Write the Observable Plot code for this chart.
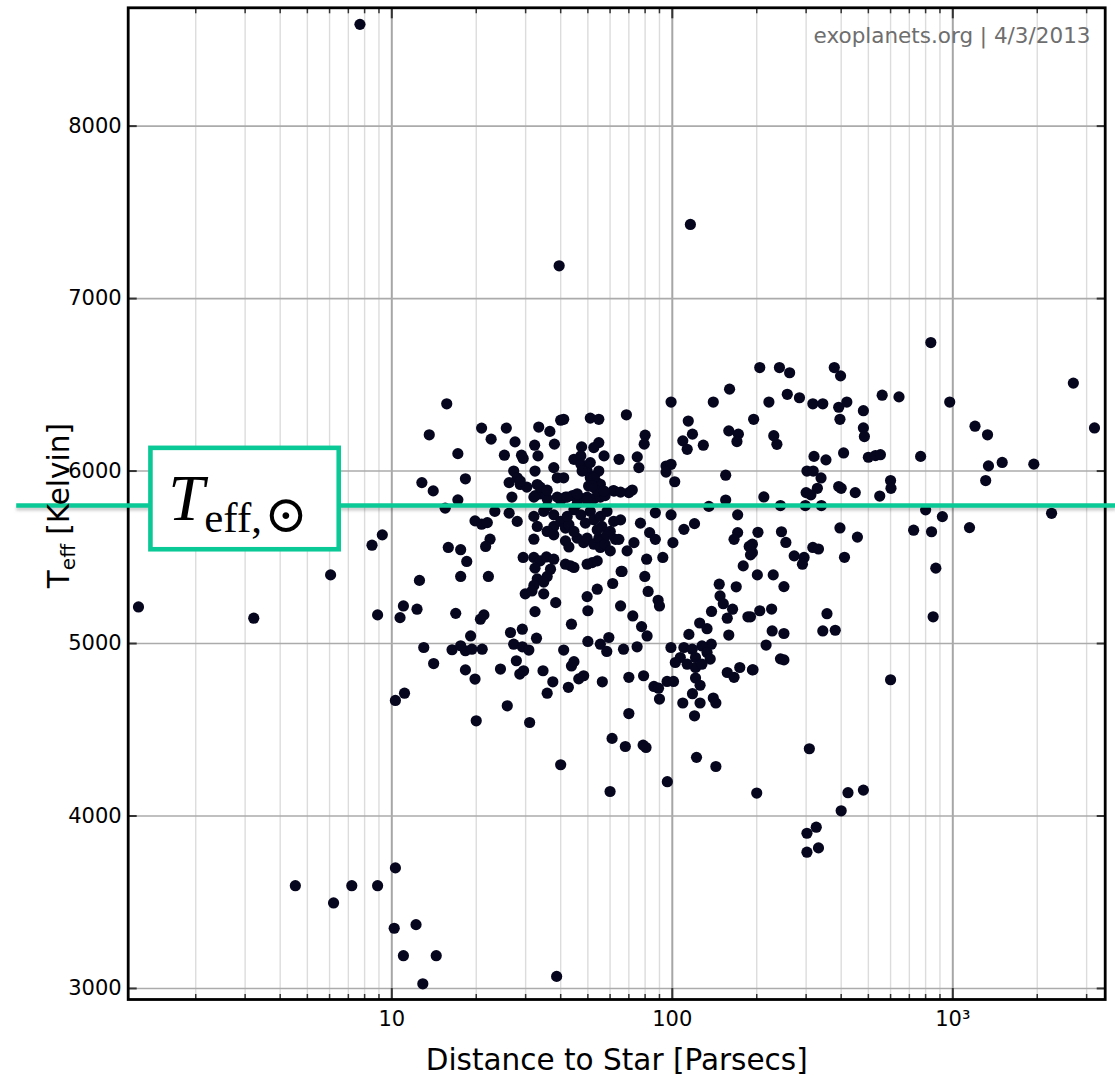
<!DOCTYPE html>
<html>
<head>
<meta charset="utf-8">
<script src="https://cdn.jsdelivr.net/npm/d3@7"></script>
<script src="https://cdn.jsdelivr.net/npm/@observablehq/plot@0.6"></script>
<style>
html,body{margin:0;padding:0;background:#fff;}
#chart{width:1115px;height:1078px;overflow:hidden;}
</style>
</head>
<body>
<div id="chart"></div>
<script>
// Distance to star [parsecs]
const distance = [
  7.7, 39.5, 116, 835,
  205, 241, 262, 378, 398, 2690, 3200,
  221, 257, 284, 317, 344, 392, 419, 560, 643, 975,
  195, 396, 480, 480, 484, 230, 236,
  320, 353, 408, 500, 530, 552, 768,
  1200, 1330, 1340, 1500, 1945, 1310,
  302, 318, 339, 329, 300, 312, 392, 400, 449, 549, 600, 602, 212,
  243, 298, 340, 800, 918, 2250,
  725, 840, 1147,
  202, 245, 254, 396, 457, 193, 193, 272, 295, 291, 317, 332, 411, 870,
  201, 229, 250, 205, 226, 190, 356, 227, 250, 344, 381, 851, 216, 243, 250, 193, 600,
  308, 200, 423, 480, 400, 302, 326, 302, 332,
  10.3, 4.53, 6.2, 7.2, 8.9, 10.3, 10.2, 12.2, 11, 14.4, 12.9, 38.7,
  40, 60, 96, 20, 31, 11.1, 14.1, 18.3, 19.8, 24.4, 25.8, 27.8, 28.6, 29.5,
  34.6, 35.8, 37.5, 42.6, 43.7, 44.6, 46.4, 48.3, 56.3, 61, 68, 70, 70, 79,
  78.7, 80.6, 86, 89.3, 90, 95.8, 101, 109, 118, 121, 121, 125.6, 120, 125.6, 122,
  140, 143, 143, 157, 166, 174, 194,
  1.25, 3.22, 6.05, 8.5, 9.25, 8.9,
  160, 99, 140, 159, 172, 170, 114, 118, 109, 113, 129, 155, 155, 135,
  95, 99, 95, 102, 99, 87, 80, 79.4, 68.6, 75, 76, 64.6, 72, 70, 62,
  65.4, 77, 83, 87, 110, 120, 100.5, 73, 69, 81, 92.5, 65.7, 79.8, 82, 89, 90,
  169, 179, 171, 166, 188, 190, 147, 148, 152, 138, 164, 157, 186, 159, 171,
  15.7, 13.6, 17.2, 12.8, 14.05, 18.3, 17.2, 15.5, 20.9, 22.6, 25.6, 27.5, 25.2, 29, 29.4,
  33.4, 36.6, 32.3, 33.2, 38, 40, 41, 51, 54.7, 47.5, 54.7, 52.5, 57.1, 44.6, 47.2,
  27.2, 28, 26.2, 32.4, 37.8, 38.9, 41, 28.7, 30.3, 33, 33.9, 32.5, 35.8, 26.8,
  49.7, 51, 52.8, 54.7, 54, 50.3, 52.8, 54.7, 47.2, 47.7, 44.1, 46.4, 45.8, 41.6, 40,
  49.7, 52.5, 55.4, 57.6, 61.7, 65.4, 51,
  33.8, 35.8, 32.1, 38.9, 42.2, 45.8, 49.7, 28.7, 55.4, 54, 57.1, 52.5, 51.8,
  23.3, 26.2, 28, 19.8, 20.9, 21.9, 22.4, 21.6, 15.9, 17.6, 18.5, 17.6, 12.55, 22.1,
  32.1, 33, 34.8, 35.8, 37.8, 37.8, 40, 41.6, 42.8, 44.6, 47.2, 49, 51, 52.5, 55.4, 56.1, 58.5, 60.1, 61.8, 62.7, 64.5,
  32.1, 35.8, 37.8, 41.6, 42.8, 45.8, 48.3, 49.7, 52.5, 54.7, 55.4, 57.6, 60.1, 54, 51.8, 49.7, 41.6, 43.4, 44.6,
  29.4, 32.1, 33.8, 35.6, 37.8, 36.8, 35.8, 32.4, 33, 34.8, 32.1, 29.9, 34.8, 38.4, 32.4, 43.7,
  50, 49.7, 54, 61.3, 66.2, 65.4, 72.3, 77.7, 81.3, 50, 55.4, 59.4, 58.4, 67, 74.9, 41,
  26.5, 29.2, 27.2, 29.2, 30.8, 32.8, 19.1, 20.7, 21.3, 16.9, 16.4, 18.3, 19.3, 21, 17.6, 13, 11, 10.7, 12.3,
  42.2, 44.6, 54, 58.5, 31.6,
  125.2, 133, 114.6, 137.7, 127.6, 98.9, 110, 117.8, 133, 106.8, 121, 136.5, 102.5, 113, 127.5
];
// Effective temperature [K]
const teff = [
  8590, 7190, 7430, 6745,
  6600, 6600, 6570, 6600, 6552, 6510, 6250,
  6400, 6445, 6425, 6390, 6390, 6370, 6400, 6440, 6430, 6400,
  6300, 6300, 6350, 6250, 6200, 6205, 6155,
  6085, 6065, 6105, 6080, 6090, 6095, 6085,
  6260, 6210, 6030, 6050, 6040, 5945,
  6000, 6000, 5960, 5900, 5875, 5862, 5910, 5900, 5875, 5855, 5945, 5900, 5850,
  5800, 5800, 5800, 5775, 5736, 5755,
  5657, 5648, 5672,
  5645, 5648, 5586, 5670, 5617, 5576, 5527, 5508, 5499, 5460, 5557, 5548, 5500, 5437,
  5398, 5398, 5330, 5190, 5200, 5155, 5173, 5073, 5058, 5073, 5077, 5155, 4991, 4911, 4905, 4847, 4790,
  4390, 4133, 4135, 4150, 4030, 3900, 3935, 3790, 3815,
  4670, 3596, 3496, 3596, 3596, 3699, 3349, 3370, 3190, 3190, 3027, 3070,
  4297, 4142, 4199, 4552, 4542, 4712, 4884, 4847, 4794, 4852, 4639, 4900, 4823, 4842,
  4842, 4712, 4778, 4746, 4870, 4895, 4795, 4813, 4778, 4450, 4403, 4594, 4804, 4813,
  4411, 4397, 4751, 4741, 4678, 4780, 4780, 4655, 4709, 4861, 4800, 4758, 4581, 4655, 4340,
  4684, 4655, 4287, 4832, 4804, 4861, 4848,
  5212, 5147, 5398, 5570, 5630, 5166,
  6475, 6400, 6400, 6233, 6214, 6171, 6290, 6214, 6175, 6126, 6150, 5976, 5832, 5795,
  6029, 6039, 5994, 5938, 5746, 5758, 6208, 6156, 6326, 6082, 6020, 6068, 5890, 5875, 5884,
  5717, 5698, 5643, 5604, 5662, 5695, 5585, 5585, 5537, 5489, 5499, 5418, 5389, 5302, 5251, 5218,
  5329, 5450, 5643, 5604, 5563, 5514, 5344, 5276, 5231, 5186, 5199, 5147, 5155, 5049, 5746,
  6390, 6210, 6101, 5933, 5885, 5955, 5833, 5785, 6249, 6185, 6249, 6169, 6092, 6092, 6073,
  6255, 6230, 6150, 6088, 6156, 6295, 6300, 6307, 6300, 6140, 6165, 6136, 6088, 6068, 6088,
  6000, 5961, 5933, 6000, 6020, 5961, 5961, 5922, 5907, 5922, 5868, 5858, 5839, 5849,
  6000, 5961, 5971, 6000, 5932, 5913, 5903, 5903, 6039, 6000, 5858, 5849, 5810, 5849, 5830,
  5849, 5839, 5849, 5858, 5887, 5878, 6049,
  5907, 5889, 5849, 5849, 5849, 5868, 5830, 5942, 5923, 5884, 5884, 5961, 5913,
  5766, 5756, 5708, 5711, 5692, 5701, 5605, 5563, 5557, 5544, 5476, 5389, 5366, 5389,
  5737, 5679, 5766, 5795, 5746, 5679, 5708, 5669, 5689, 5776, 5746, 5698, 5766, 5718, 5737, 5679, 5766, 5650, 5708, 5604, 5604,
  5605, 5650, 5630, 5595, 5560, 5611, 5585, 5611, 5576, 5611, 5557, 5576, 5537, 5479, 5469, 5460, 5460, 5450, 5441,
  5499, 5499, 5479, 5502, 5489, 5431, 5389, 5437, 5375, 5356, 5337, 5288, 5288, 5237, 5185, 5112,
  5190, 5272, 5315, 5348, 5418, 5218, 5160, 5098, 5044, 5012, 4996, 5035, 4954, 4967, 4981, 4962,
  5064, 5083, 4996, 4981, 4962, 5031, 5044, 5141, 5166, 5175, 4964, 4958, 4967, 4967, 4987, 4977, 5218, 5150, 5199,
  5737, 5650, 5660, 5630, 5305,
  5119, 5086, 5053, 4996, 4986, 4977, 4977, 4967, 4948, 4919, 4919, 4910, 4890, 4880, 4880
];

const xMajorTicks = [10, 100, 1000];
const xMajorLabels = ["10", "100", "10³"];
const xMinorTicks = [2, 3, 4, 5, 6, 7, 8, 9, 20, 30, 40, 50, 60, 70, 80, 90,
  200, 300, 400, 500, 600, 700, 800, 900, 2000, 3000];
const yTicks = [3000, 4000, 5000, 6000, 7000, 8000];
const yTickLabels = ["3000", "4000", "5000", "6000", "7000", "8000"];
const sunTeff = 5800;
const sunLabelDistance = 3;
const xTitle = "Distance to Star [Parsecs]";
const yTitleParts = ["T", "eff", " [Kelvin]"];
const sunLabelParts = ["T", "eff,", "\u2299"];
const credit = "exoplanets.org | 4/3/2013";

if (distance.length !== teff.length) throw new Error("length mismatch " + distance.length + " vs " + teff.length);

const stars = distance.map((d, i) => ({distance: d, teff: teff[i]}));
const teal = "#0BC897";

const plot = Plot.plot({
  width: 1115,
  height: 1078,
  marginLeft: 127.7,
  marginRight: 10.3,
  marginTop: 7.3,
  marginBottom: 79,
  style: {fontFamily: "'DejaVu Sans', Verdana, sans-serif", fontSize: "21px", color: "#000", background: "#fff", overflow: "visible"},
  x: {type: "log", domain: [1.1488, 3494]},
  y: {domain: [2936, 8686]},
  marks: [
    Plot.gridX(xMinorTicks, {stroke: "#dcdcdc", strokeOpacity: 1, strokeWidth: 1.4}),
    Plot.gridX(xMajorTicks, {stroke: "#a6a6a6", strokeOpacity: 1, strokeWidth: 2}),
    Plot.gridY(yTicks, {stroke: "#ababab", strokeOpacity: 1, strokeWidth: 1.6}),
    // inward ticks
    Plot.axisX({anchor: "bottom", ticks: xMinorTicks, tickSize: 5, dy: -5, tickFormat: () => "", label: null, stroke: "#333", strokeWidth: 1.5}),
    Plot.axisX({anchor: "bottom", ticks: xMajorTicks, tickSize: 11, dy: -11, tickFormat: () => "", label: null, stroke: "#333", strokeWidth: 2}),
    Plot.axisX({anchor: "top", ticks: xMinorTicks, tickSize: 5, dy: 5, tickFormat: () => "", label: null, stroke: "#333", strokeWidth: 1.5}),
    Plot.axisX({anchor: "top", ticks: xMajorTicks, tickSize: 10, dy: 10, tickFormat: () => "", label: null, stroke: "#333", strokeWidth: 2}),
    Plot.axisY({anchor: "left", ticks: yTicks, tickSize: 9, dx: 9, tickFormat: () => "", label: null, stroke: "#333", strokeWidth: 2}),
    Plot.axisY({anchor: "right", ticks: yTicks, tickSize: 9, dx: -9, tickFormat: () => "", label: null, stroke: "#333", strokeWidth: 2}),
    // tick labels, placed through the scales
    Plot.text(xMajorTicks, {x: (d) => d, text: (d, i) => xMajorLabels[i], frameAnchor: "bottom", lineAnchor: "top", dy: 11.5, fontSize: 21, fill: "#000"}),
    Plot.text(yTicks, {y: (d) => d, text: (d, i) => yTickLabels[i], frameAnchor: "left", textAnchor: "end", lineAnchor: "middle", dx: -6.5, fontSize: 21, fill: "#000"}),
    // data
    Plot.dot(stars, {x: "distance", y: "teff", r: 5.6, fill: "#06061f"}),
    Plot.frame({stroke: "#000", strokeWidth: 2.8}),
    // solar temperature line with soft shadow
    Plot.ruleY([sunTeff], {insetLeft: -111.5, insetRight: -11, dy: 3, stroke: "#000", strokeOpacity: 0.21, strokeWidth: 4}),
    Plot.ruleY([sunTeff], {insetLeft: -111.5, insetRight: -11, stroke: teal, strokeWidth: 4.5}),
    // titles
    Plot.text([xTitle], {text: (d) => d, frameAnchor: "bottom", lineAnchor: "middle", dy: 61.5, fontSize: 29.5}),
    Plot.text([yTitleParts.join("")], {text: (d) => d, frameAnchor: "left", rotate: -90, textAnchor: "middle", dx: -59, dy: 2, fontSize: 29.5}),
    Plot.text([credit], {text: (d) => d, frameAnchor: "top-right", textAnchor: "end", lineAnchor: "middle", dx: -14.7, dy: 28.5, fill: "#6e6e6e", fontSize: 21.5})
  ]
});

document.getElementById("chart").append(plot);

const svg = d3.select(plot);

// blur the shadow under the solar line
svg.selectAll("g").filter(function () { return this.getAttribute("stroke-opacity") === "0.21"; })
  .style("filter", "blur(1.6px)");

// y-axis title with subscript
const yt = svg.selectAll("text").filter(function () { return this.textContent === yTitleParts.join(""); });
yt.attr("y", null).attr("dy", null).text(null);
yt.append("tspan").text(yTitleParts[0]);
yt.append("tspan").attr("font-size", "0.68em").attr("dy", "0.28em").text(yTitleParts[1]);
yt.append("tspan").attr("dy", "-0.19em").text(yTitleParts[2]);

// boxed label for the solar effective temperature, anchored through the scales
const cx = plot.scale("x").apply(sunLabelDistance);
const cy = plot.scale("y").apply(sunTeff);
const lg = svg.append("g").attr("aria-label", "sun-label");
lg.append("rect")
  .attr("x", cx - 94.2).attr("y", cy - 57.2)
  .attr("width", 188.3).attr("height", 101.4)
  .attr("fill", "#fff").attr("stroke", teal).attr("stroke-width", 4.6);
const lt = lg.append("text")
  .attr("x", cx - 76.5).attr("y", cy + 15)
  .attr("text-anchor", "start")
  .attr("font-family", "'Liberation Serif', 'DejaVu Serif', serif")
  .attr("fill", "#000");
lt.append("tspan").attr("font-style", "italic").attr("font-size", 65).text(sunLabelParts[0]);
lt.append("tspan").attr("font-size", 43).attr("dy", 11.7).text(sunLabelParts[1]);
lt.append("tspan").attr("font-size", 52).attr("font-family", "'DejaVu Serif', serif").attr("dx", 2).text(sunLabelParts[2]);
</script>
</body>
</html>
